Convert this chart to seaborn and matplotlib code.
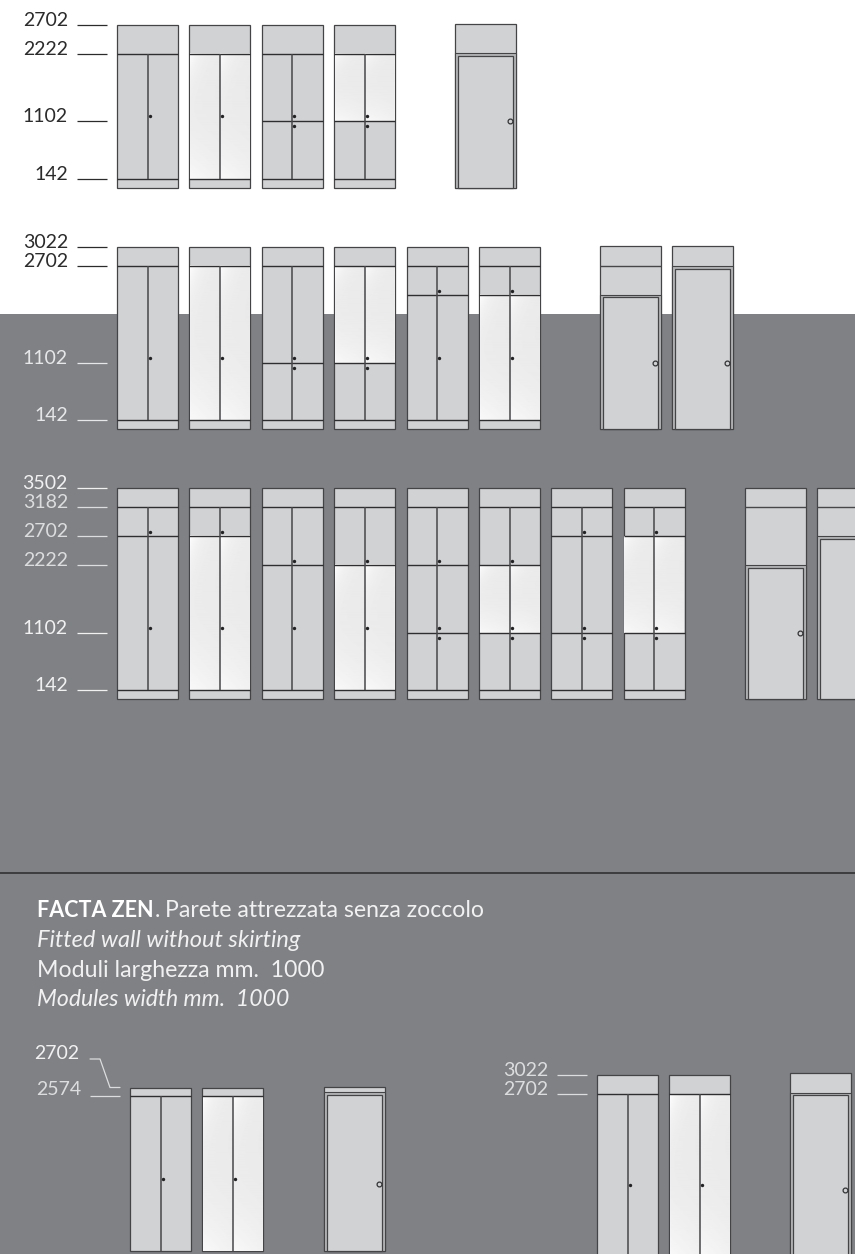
import numpy as np
import pandas as pd
import matplotlib.pyplot as plt
from matplotlib.transforms import ScaledTranslation
import seaborn as sns

# ------------------------
# Data (heights in mm, positions in module slots)
# ------------------------
row1_ticks = [142, 1102, 2222, 2702]
row1_tick_colors = ['#2b2b2b', '#2b2b2b', '#2b2b2b', '#2b2b2b']
row1_top = 2702
row1_lines = [[142, 2222], [142, 2222], [142, 1102, 2222], [142, 1102, 2222]]
row1_mirrors = [None, (142, 2222), None, (1102, 2222)]
row1_knobs = [[1185], [1185], [1185, 1020], [1185, 1020]]
row1_door_slots = [4.67]
row1_door_tops = [2725]
row1_door_frames = [2240]
row1_door_leaves = [2190]
row1_door_lines = [[]]

row2_ticks = [142, 1102, 2702, 3022]
row2_tick_colors = ['#e6e7e8', '#e6e7e8', '#2b2b2b', '#2b2b2b']
row2_top = 3022
row2_lines = [[142, 2702], [142, 2702], [142, 1102, 2702], [142, 1102, 2702], [142, 2222, 2702], [142, 2222, 2702]]
row2_mirrors = [None, (142, 2702), None, (1102, 2702), None, (142, 2222)]
row2_knobs = [[1185], [1185], [1185, 1020], [1185, 1020], [2300, 1185], [2300, 1185]]
row2_door_slots = [6.67, 7.67]
row2_door_tops = [3044, 3044]
row2_door_frames = [2226, 2705]
row2_door_leaves = [2187, 2666]
row2_door_lines = [[2702], []]

row3_ticks = [142, 1102, 2222, 2702, 3182, 3502]
row3_tick_colors = ['#f1f1f2', '#f1f1f2', '#dcddde', '#dcddde', '#dcddde', '#f1f1f2']
row3_top = 3502
row3_lines = [[142, 2702, 3182], [142, 2702, 3182], [142, 2222, 3182], [142, 2222, 3182],
              [142, 1102, 2222, 3182], [142, 1102, 2222, 3182], [142, 1102, 2702, 3182], [142, 1102, 2702, 3182]]
row3_mirrors = [None, (142, 2702), None, (142, 2222), None, (1102, 2222), None, (1102, 2702)]
row3_knobs = [[2780, 1185], [2780, 1185], [2300, 1185], [2300, 1185],
              [2300, 1185, 1020], [2300, 1185, 1020], [2780, 1185, 1020], [2780, 1185, 1020]]
row3_door_slots = [8.67, 9.67]
row3_door_tops = [3502, 3502]
row3_door_frames = [2226, 2702]
row3_door_leaves = [2172, 2650]
row3_door_lines = [[3182], [3182]]

row4_ticks = [2574]
row4_tick_colors = ['#dcddde']
row4_top = 2702
row4_lines = [[2574], [2574]]
row4_mirrors = [None, (0, 2574)]
row4_knobs = [[1185], [1185]]
row4_door_slots = [2.68]
row4_door_tops = [2716]
row4_door_frames = [2628]
row4_door_leaves = [2578]
row4_door_lines = [[]]

row5_ticks = [2702, 3022]
row5_tick_colors = ['#dcddde', '#dcddde']
row5_top = 3022
row5_lines = [[2702], [2702]]
row5_mirrors = [None, (0, 2702)]
row5_knobs = [[1185], [1185]]
row5_door_slots = [2.67]
row5_door_tops = [3047]
row5_door_frames = [2723]
row5_door_leaves = [2680]
row5_door_lines = [[]]

# ------------------------
# Style
# ------------------------
W, H = 855, 1254
PX_PER_MM = 0.0602
PX_PER_SLOT = 72.4
PANEL = '#d1d2d4'
EDGE = '#444446'
GREY = '#808184'

sns.set_theme(style='white')
plt.rcParams['font.family'] = ['Lato', 'DejaVu Sans']

fig = plt.figure(figsize=(W / 100, H / 100), dpi=100, facecolor='white')

# page background and the text in pixel coordinates
bg = fig.add_axes([0, 0, 1, 1])
bg.set_xlim(0, W)
bg.set_ylim(H, 0)
bg.axis('off')
bg.axhspan(314, H, color=GREY, lw=0)
bg.axhline(872.7, color='#2a2a2c', lw=1.1)

bg.text(37, 916.7, 'FACTA ZEN', color='white', fontsize=15.5, fontweight='bold', va='baseline')
bg.text(155, 916.7, '.', color='#f1f1f2', fontsize=16.6, va='baseline')
bg.text(165, 916.7, 'Parete attrezzata senza zoccolo', color='#f1f1f2', fontsize=16.6, va='baseline')
bg.text(37, 947, 'Fitted wall without skirting', color='#f1f1f2', fontsize=17, style='italic', va='baseline')
bg.text(37, 977, 'Moduli larghezza mm.  1000', color='#f1f1f2', fontsize=16.7, va='baseline')
bg.text(37, 1005.7, 'Modules width mm.  1000', color='#f1f1f2', fontsize=16.6, style='italic', va='baseline')

# the 2702 label of the lower left group has a leader line instead of a tick
bg.text(79, 1059, '2702', color='#f1f1f2', fontsize=14, ha='right', va='baseline')
bg.plot([90, 100, 110, 120], [1059, 1059, 1087.5, 1087.5], color='#dcddde', lw=0.9)


def mirror_image():
    # sheen of a glass door leaf
    x, y = np.meshgrid(np.linspace(0, 30, 30), np.linspace(0, 1, 120))
    shade = 0.915 + 0.08 * np.exp(-(x + y * 60) / 12) + 0.06 * y ** 3 * (1 - x / 60)
    return np.clip(shade, 0, 1)


def draw_row(center_px, base_px, ticks, tick_colors, top, lines, mirrors, knobs,
             door_slots, door_tops, door_frames, door_leaves, door_lines, vert_from, label_shift=-1):
    xmin, xmax = -40.5 / PX_PER_SLOT, 11
    ymin, ymax = -100, 3800
    left = center_px - 40.5
    bottom = base_px + 100 * PX_PER_MM
    ax = fig.add_axes([left / W, 1 - bottom / H,
                       (xmax - xmin) * PX_PER_SLOT / W, (ymax - ymin) * PX_PER_MM / H])
    ax.patch.set_alpha(0)

    slots = list(range(len(lines)))
    modules = pd.DataFrame({'slot': slots, 'height': [top] * len(lines)})
    doors = pd.DataFrame({'slot': door_slots, 'top': door_tops, 'frame': door_frames, 'leaf': door_leaves})

    # cabinet bodies
    sns.barplot(data=modules, x='slot', y='height', native_scale=True, width=0.84, gap=0,
                color=PANEL, saturation=1, edgecolor=EDGE, linewidth=0.9, errorbar=None, ax=ax)

    # doors: top panel, frame, leaf
    sns.barplot(data=doors, x='slot', y='top', native_scale=True, width=0.84, gap=0,
                color=PANEL, saturation=1, edgecolor=EDGE, linewidth=0.9, errorbar=None, ax=ax)
    sns.barplot(data=doors, x='slot', y='frame', native_scale=True, width=0.84, gap=0,
                color='#b4b5b7', saturation=1, edgecolor=EDGE, linewidth=0.8, errorbar=None, ax=ax)
    sns.barplot(data=doors, x='slot', y='leaf', native_scale=True, width=0.76, gap=0,
                color=PANEL, saturation=1, edgecolor=EDGE, linewidth=0.9, errorbar=None, ax=ax)

    # glass leaves
    for slot, mirror in zip(slots, mirrors):
        if mirror is None:
            continue
        for x0, x1 in [(slot - 0.413, slot), (slot, slot + 0.413)]:
            ax.imshow(mirror_image(), extent=(x0, x1, mirror[0], mirror[1]), cmap='gray',
                      vmin=0, vmax=1, aspect='auto', origin='upper', zorder=1.2)

    # rails and centre lines
    for slot, levels in zip(slots, lines):
        ax.hlines(levels, slot - 0.42, slot + 0.42, color='#2e2e30', lw=1, zorder=2)
        ax.vlines(slot, vert_from, levels[-1], color='#47474a', lw=1.1, zorder=2)
    for slot, levels in zip(door_slots, door_lines):
        if levels:
            ax.hlines(levels, slot - 0.42, slot + 0.42, color='#47474a', lw=1, zorder=2)

    # knobs and door handles
    knob_x = [slot + 0.03 for slot, ks in zip(slots, knobs) for _ in ks]
    knob_y = [k for ks in knobs for k in ks]
    sns.scatterplot(x=knob_x, y=knob_y, s=6, color='#222224', linewidth=0, zorder=3, ax=ax, legend=False)
    handle_x = [slot + 0.338 for slot in door_slots]
    sns.scatterplot(x=handle_x, y=[1102] * len(door_slots), s=12, color=PANEL, edgecolor='#333335',
                    linewidth=0.9, zorder=3, ax=ax, legend=False)

    ax.set_xlim(xmin, xmax)
    ax.set_ylim(ymin, ymax)
    ax.set(xlabel='', ylabel='')
    ax.set_xticks([])
    ax.set_yticks(ticks)
    ax.set_yticklabels([str(t) for t in ticks], fontsize=14, va='baseline')
    ax.tick_params(axis='y', left=True, length=21.6, width=0.9, pad=6.5)
    nudge = ScaledTranslation(0, label_shift / 100, fig.dpi_scale_trans)
    for tick, c in zip(ax.yaxis.get_major_ticks(), tick_colors):
        tick.tick1line.set_markeredgecolor(c)
        tick.label1.set_color(c)
        tick.label1.set_transform(tick.label1.get_transform() + nudge)
    sns.despine(ax=ax, left=True, bottom=True)
    return ax


draw_row(147.5, 187.6, row1_ticks, row1_tick_colors, row1_top, row1_lines, row1_mirrors, row1_knobs,
         row1_door_slots, row1_door_tops, row1_door_frames, row1_door_leaves, row1_door_lines, 142)
draw_row(147.5, 429, row2_ticks, row2_tick_colors, row2_top, row2_lines, row2_mirrors, row2_knobs,
         row2_door_slots, row2_door_tops, row2_door_frames, row2_door_leaves, row2_door_lines, 142)
draw_row(147.5, 699, row3_ticks, row3_tick_colors, row3_top, row3_lines, row3_mirrors, row3_knobs,
         row3_door_slots, row3_door_tops, row3_door_frames, row3_door_leaves, row3_door_lines, 142)
draw_row(160.5, 1250.5, row4_ticks, row4_tick_colors, row4_top, row4_lines, row4_mirrors, row4_knobs,
         row4_door_slots, row4_door_tops, row4_door_frames, row4_door_leaves, row4_door_lines, 0, label_shift=1)
draw_row(627.5, 1256.6, row5_ticks, row5_tick_colors, row5_top, row5_lines, row5_mirrors, row5_knobs,
         row5_door_slots, row5_door_tops, row5_door_frames, row5_door_leaves, row5_door_lines, 0)

fig.savefig('out.png', dpi=100)
